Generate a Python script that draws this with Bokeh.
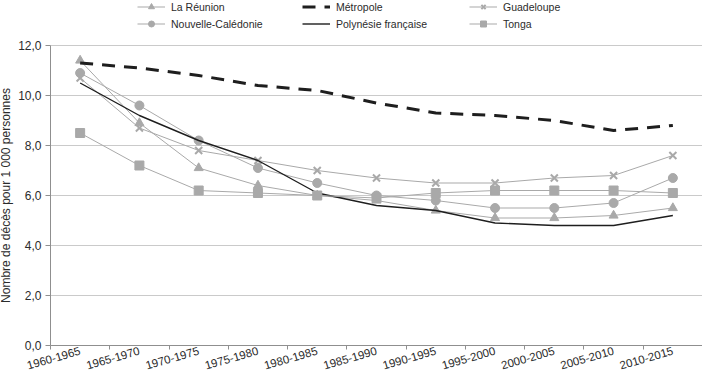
import math
from bokeh.plotting import figure
from bokeh.models import FixedTicker, Legend, LegendItem, Range1d
from bokeh.embed import file_html
from bokeh.resources import INLINE

periods = ["1960-1965", "1965-1970", "1970-1975", "1975-1980", "1980-1985", "1985-1990",
           "1990-1995", "1995-2000", "2000-2005", "2005-2010", "2010-2015"]
reunion = [11.4, 8.9, 7.1, 6.4, 6.0, 5.8, 5.4, 5.1, 5.1, 5.2, 5.5]
metropole = [11.3, 11.1, 10.8, 10.4, 10.2, 9.7, 9.3, 9.2, 9.0, 8.6, 8.8]
guadeloupe = [10.7, 8.7, 7.8, 7.4, 7.0, 6.7, 6.5, 6.5, 6.7, 6.8, 7.6]
nouvelle_caledonie = [10.9, 9.6, 8.2, 7.1, 6.5, 6.0, 5.8, 5.5, 5.5, 5.7, 6.7]
polynesie = [10.5, 9.2, 8.2, 7.4, 6.1, 5.6, 5.4, 4.9, 4.8, 4.8, 5.2]
tonga = [8.5, 7.2, 6.2, 6.1, 6.0, 5.9, 6.1, 6.2, 6.2, 6.2, 6.1]
y_ticks = [0, 2, 4, 6, 8, 10, 12]
y_title = "Nombre de décès pour 1 000 personnes"

xs = list(range(1, len(periods) + 1))
bounds = [k + 0.5 for k in range(0, len(periods) + 1)]
x_lo, x_hi = bounds[0], bounds[-1]

FONT = "Liberation Sans"
GRAY = "#a9a9a9"
DARK = "#1e1e1e"
TXT = "#2b2b2b"
AX = "#8f8f8f"

p = figure(width=702, height=376, output_backend="svg", toolbar_location=None,
           x_range=Range1d(-0.3436, x_hi), y_range=Range1d(-1.24, 13.8),
           min_border_left=0, min_border_right=0, min_border_top=0, min_border_bottom=0)
p.outline_line_color = None
p.background_fill_color = "white"
p.border_fill_color = "white"
p.xgrid.visible = False
p.ygrid.visible = False

# horizontal gridlines limited to the plotting area
p.segment(x0=[x_lo] * len(y_ticks), x1=[x_hi] * len(y_ticks), y0=y_ticks, y1=y_ticks,
          line_color="#cacaca", line_width=1, level="underlay")

yt = FixedTicker(ticks=y_ticks)
p.yaxis.ticker = yt
p.yaxis.fixed_location = x_lo
p.yaxis.bounds = (0, 12)
p.yaxis.major_label_overrides = {t: f"{t},0" for t in y_ticks}
p.yaxis.axis_label = y_title
p.yaxis.axis_label_text_font = FONT
p.yaxis.axis_label_text_font_size = "12px"
p.yaxis.axis_label_text_font_style = "normal"
p.yaxis.axis_label_text_color = TXT
p.yaxis.axis_label_standoff = 2
p.yaxis.major_label_text_font = FONT
p.yaxis.major_label_text_font_size = "12px"
p.yaxis.major_label_text_color = TXT
p.yaxis.major_label_standoff = 4
p.yaxis.major_tick_out = 5
p.yaxis.major_tick_in = 0
p.yaxis.minor_tick_line_color = None
p.yaxis.axis_line_color = AX
p.yaxis.major_tick_line_color = AX

# x axis sits at y = 0; ticks at category boundaries, labels at centres
xt = FixedTicker(ticks=xs, minor_ticks=bounds)
p.xaxis.ticker = xt
p.xaxis.fixed_location = 0
p.xaxis.bounds = (x_lo, x_hi)
p.xaxis.major_label_overrides = {x: lab for x, lab in zip(xs, periods)}
p.xaxis.major_label_orientation = math.radians(16)
p.xaxis.major_label_text_font = FONT
p.xaxis.major_label_text_font_size = "11.5px"
p.xaxis.major_label_text_color = TXT
p.xaxis.major_label_standoff = 1
p.xaxis.major_tick_line_color = None
p.xaxis.major_tick_out = 0
p.xaxis.major_tick_in = 0
p.xaxis.minor_tick_out = 4
p.xaxis.minor_tick_in = 0
p.xaxis.minor_tick_line_color = AX
p.xaxis.axis_line_color = AX

def series(vals, marker=None, color=GRAY, width=1.0, dash="solid", msize=9):
    rs = [p.line(xs, vals, line_color=color, line_width=width, line_dash=dash)]
    if marker is not None:
        if marker == "x":
            rs.append(p.scatter(xs, vals, marker="x", size=msize, line_color=color, line_width=2))
        else:
            rs.append(p.scatter(xs, vals, marker=marker, size=msize, fill_color=color,
                                line_color=color))
    return rs

r_reu = series(reunion, "triangle", msize=9)
r_met = series(metropole, None, color=DARK, width=3, dash="13 9")
r_gua = series(guadeloupe, "x", msize=10)
r_nc = series(nouvelle_caledonie, "circle", msize=9)
r_pol = series(polynesie, None, color=DARK, width=1.4)
r_ton = series(tonga, "square", msize=9)

LEG_Y = 345
def add_leg(items, x):
    leg = Legend(items=items, location=(x, LEG_Y), orientation="vertical",
                 border_line_color=None, background_fill_alpha=0, padding=0, margin=0,
                 spacing=2, glyph_width=28, glyph_height=15, label_standoff=6,
                 label_height=15, label_text_font=FONT, label_text_font_size="10.5px",
                 label_text_color=TXT)
    p.add_layout(leg)

add_leg([LegendItem(label="La Réunion", renderers=r_reu),
         LegendItem(label="Nouvelle-Calédonie", renderers=r_nc)], 137)
add_leg([LegendItem(label="Métropole", renderers=r_met),
         LegendItem(label="Polynésie française", renderers=r_pol)], 302)
add_leg([LegendItem(label="Guadeloupe", renderers=r_gua),
         LegendItem(label="Tonga", renderers=r_ton)], 469)

open("out.html", "w").write(file_html(p, INLINE))
